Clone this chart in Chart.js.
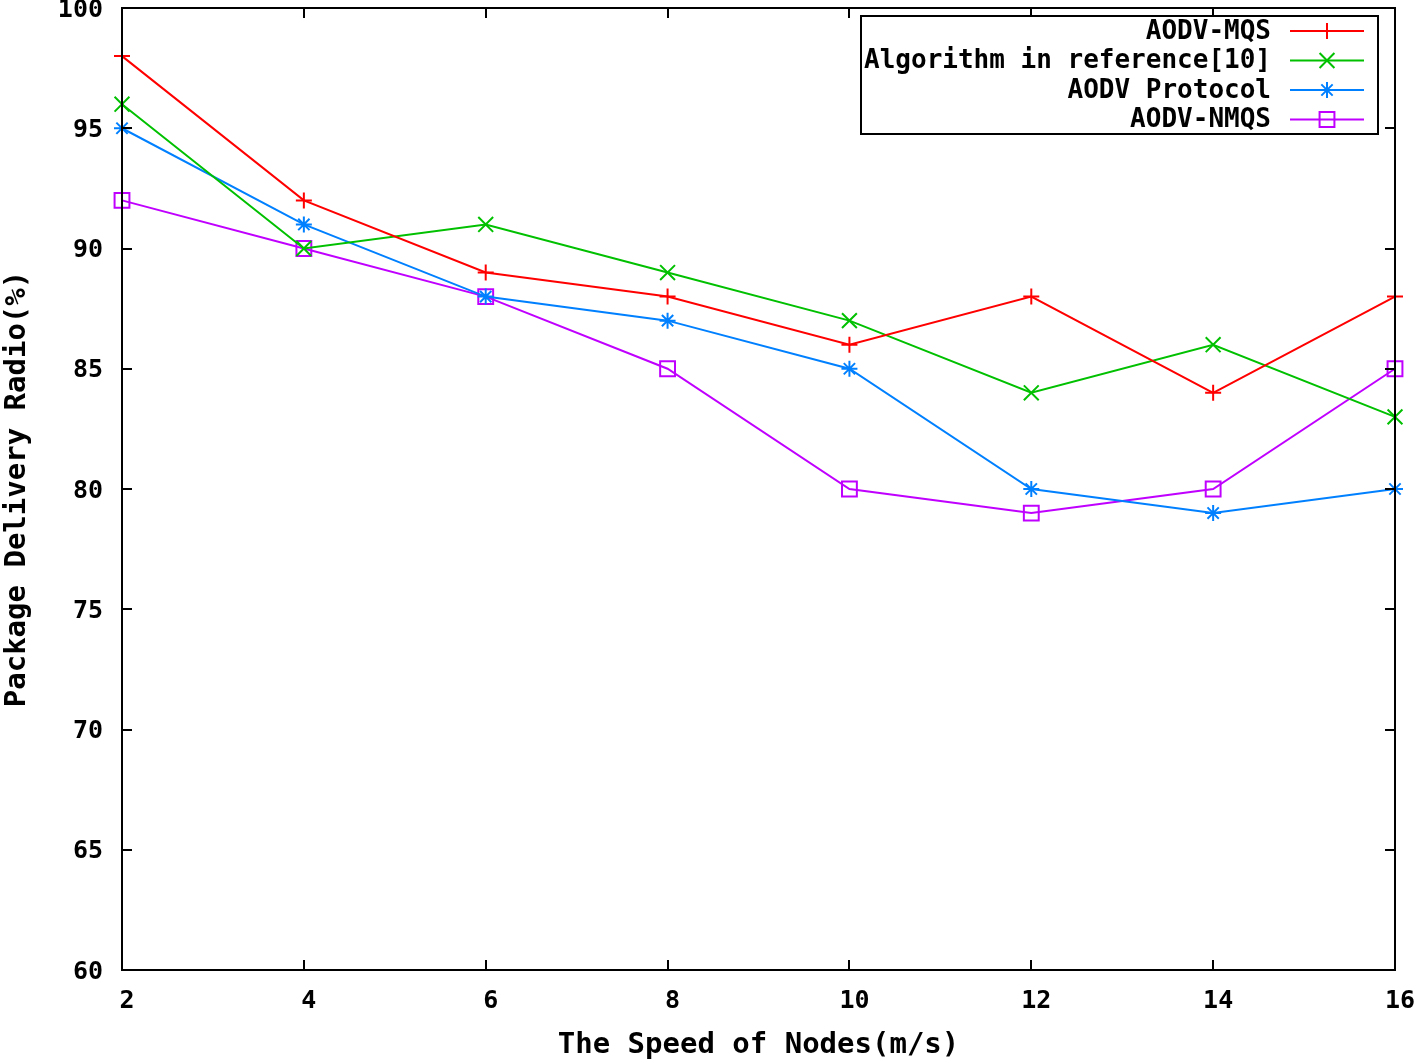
<!DOCTYPE html>
<html>
<head>
<meta charset="utf-8">
<script src="https://cdn.jsdelivr.net/npm/chart.js@4.4.0/dist/chart.umd.min.js"></script>
<style>
  html, body { margin: 0; padding: 0; background: #fff; }
  #wrap { width: 1416px; height: 1063px; }
</style>
</head>
<body>
<div id="wrap"><canvas id="pdrChart"></canvas></div>
<script>
// --- data ---
const speeds = [2, 4, 6, 8, 10, 12, 14, 16];
const aodvMqs = [98, 92, 89, 88, 86, 88, 84, 88];
const algRef10 = [96, 90, 91, 89, 87, 84, 86, 83];
const aodvProtocol = [95, 91, 88, 87, 85, 80, 79, 80];
const aodvNmqs = [92, 90, 88, 85, 80, 79, 80, 85];

const seriesNames = ["AODV-MQS", "Algorithm in reference[10]", "AODV Protocol", "AODV-NMQS"];
const xTicks = [2, 4, 6, 8, 10, 12, 14, 16];
const yTicks = [60, 65, 70, 75, 80, 85, 90, 95, 100];

const MONO = "'DejaVu Sans Mono', 'Liberation Mono', monospace";

function toPoints(ys) {
    return speeds.map((x, i) => ({ x: x, y: ys[i] }));
}

function makeSet(label, ys, color, style, radius) {
    return {
        label: label,
        data: toPoints(ys),
        borderColor: color,
        backgroundColor: color,
        borderWidth: 2,
        pointStyle: style,
        pointRadius: radius,
        pointBorderWidth: 2,
        pointBackgroundColor: style === "rect" ? "rgba(0,0,0,0)" : color,
        tension: 0,
        clip: false,
    };
}

// gnuplot-style frame: inward ticks on all four sides, labels outside
const framePlugin = {
    id: "frame",
    afterDatasetsDraw(chart) {
        const { ctx, chartArea: a, scales } = chart;
        ctx.save();
        ctx.strokeStyle = "#000";
        ctx.lineWidth = 2;
        ctx.strokeRect(a.left, a.top, a.right - a.left, a.bottom - a.top);
        const len = 10;
        ctx.beginPath();
        xTicks.forEach(v => {
            const px = Math.round(scales.x.getPixelForValue(v));
            ctx.moveTo(px, a.bottom); ctx.lineTo(px, a.bottom - len);
            ctx.moveTo(px, a.top); ctx.lineTo(px, a.top + len);
        });
        yTicks.forEach(v => {
            const py = Math.round(scales.y.getPixelForValue(v));
            ctx.moveTo(a.left, py); ctx.lineTo(a.left + len, py);
            ctx.moveTo(a.right, py); ctx.lineTo(a.right - len, py);
        });
        ctx.stroke();

        // tick labels
        ctx.fillStyle = "#000";
        ctx.font = "bold 25px " + MONO;
        ctx.textBaseline = "middle";
        ctx.textAlign = "right";
        yTicks.forEach(v => {
            ctx.fillText(String(v), a.left - 19, scales.y.getPixelForValue(v) + 2);
        });
        ctx.textAlign = "center";
        xTicks.forEach(v => {
            ctx.fillText(String(v), scales.x.getPixelForValue(v) + 5, a.bottom + 31);
        });
        ctx.restore();
    },
    afterDraw(chart) {
        // legend box, top right
        const { ctx } = chart;
        const box = { x: 861, y: 16, w: 517, h: 118 };
        ctx.save();
        ctx.fillStyle = "#fff";
        ctx.fillRect(box.x, box.y, box.w, box.h);
        ctx.strokeStyle = "#000";
        ctx.lineWidth = 2;
        ctx.strokeRect(box.x, box.y, box.w, box.h);
        ctx.font = "bold 26px " + MONO;
        ctx.textAlign = "right";
        ctx.textBaseline = "middle";
        chart.data.datasets.forEach((ds, i) => {
            const y = 31 + i * 29.5;
            ctx.fillStyle = "#000";
            ctx.fillText(ds.label, 1271, y + 1);
            ctx.strokeStyle = ds.borderColor;
            ctx.lineWidth = 2;
            ctx.beginPath();
            ctx.moveTo(1290, y); ctx.lineTo(1364, y);
            ctx.stroke();
            ctx.fillStyle = ds.pointBackgroundColor;
            Chart.helpers.drawPoint(ctx, {
                pointStyle: ds.pointStyle,
                radius: ds.pointRadius,
                borderWidth: 2,
                rotation: 0,
            }, 1327, y);
        });
        ctx.restore();
    }
};

Chart.defaults.font.family = MONO;
Chart.defaults.font.weight = "bold";
Chart.defaults.color = "#000";

const ctx = document.getElementById("pdrChart").getContext("2d");
new Chart(ctx, {
    type: "line",
    data: {
        datasets: [
            makeSet(seriesNames[0], aodvMqs, "#ff0000", "cross", 8),
            makeSet(seriesNames[1], algRef10, "#00c000", "crossRot", 10.5),
            makeSet(seriesNames[2], aodvProtocol, "#0080ff", "star", 8),
            makeSet(seriesNames[3], aodvNmqs, "#c000ff", "rect", 10.5),
        ],
    },
    options: {
        responsive: true,
        maintainAspectRatio: false,
        animation: false,
        events: [],
        layout: { autoPadding: false, padding: { left: 0, top: 8, right: 21, bottom: 0 } },
        plugins: {
            legend: { display: false },
            tooltip: { enabled: false },
        },
        scales: {
            x: {
                type: "linear",
                min: 2,
                max: 16,
                afterBuildTicks: (s) => { s.ticks = xTicks.map(v => ({ value: v })); },
                afterFit: (s) => { s.height = 93; },
                grid: { display: false },
                border: { display: false },
                ticks: { display: false },
                title: {
                    display: true,
                    text: "The Speed of Nodes(m/s)",
                    font: { size: 29, weight: "bold" },
                    padding: 0,
                },
            },
            y: {
                type: "linear",
                min: 60,
                max: 100,
                afterBuildTicks: (s) => { s.ticks = yTicks.map(v => ({ value: v })); },
                afterFit: (s) => { s.width = 122; },
                grid: { display: false },
                border: { display: false },
                ticks: { display: false },
                title: {
                    display: true,
                    text: "Package Delivery Radio(%)",
                    font: { size: 29, weight: "bold" },
                    padding: 0,
                },
            },
        },
    },
    plugins: [framePlugin],
});
</script>
</body>
</html>
